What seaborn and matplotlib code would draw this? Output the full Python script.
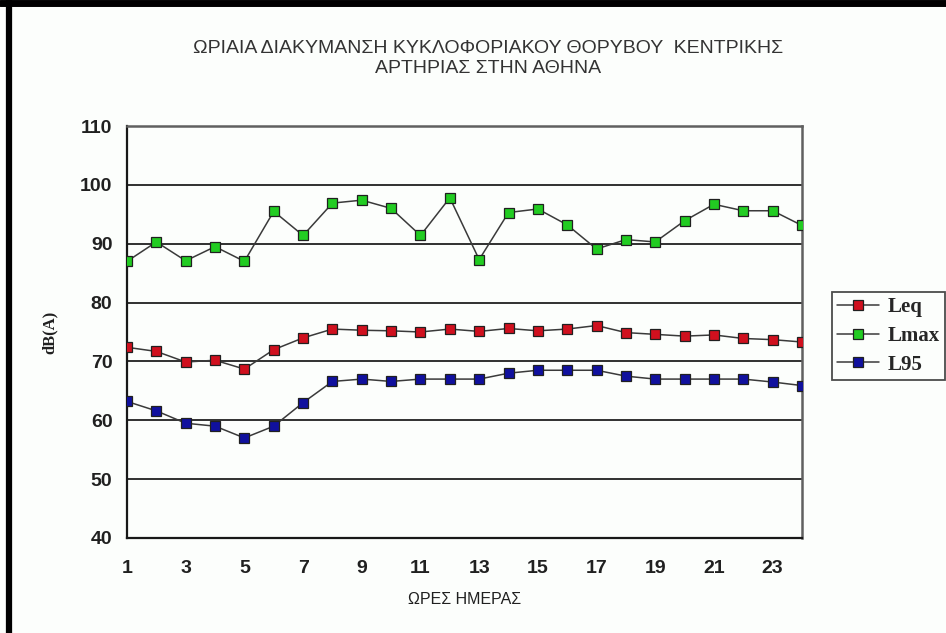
import matplotlib
matplotlib.use("Agg")
import matplotlib.pyplot as plt
import seaborn as sns
import pandas as pd
from matplotlib.lines import Line2D

# Hourly noise levels
hours = list(range(1, 25))
leq = [72.4, 71.7, 69.9, 70.2, 68.7, 72.0, 74.0, 75.5, 75.3, 75.2, 75.0, 75.5,
       75.1, 75.6, 75.2, 75.5, 76.1, 74.9, 74.6, 74.3, 74.5, 73.9, 73.7, 73.3]
lmax = [87.0, 90.3, 87.1, 89.5, 87.0, 95.5, 91.4, 96.9, 97.4, 96.0, 91.4, 97.8,
        87.3, 95.3, 95.9, 93.2, 89.1, 90.7, 90.3, 93.9, 96.7, 95.6, 95.6, 93.1]
l95 = [63.2, 61.6, 59.5, 59.0, 57.0, 59.0, 63.0, 66.6, 67.0, 66.6, 67.0, 67.0,
       67.0, 68.0, 68.5, 68.5, 68.5, 67.5, 67.0, 67.0, 67.0, 67.0, 66.5, 65.9]

series_names = ["Leq", "Lmax", "L95"]
series_colors = ["#d0101e", "#22cc22", "#10109e"]
yticks = [40, 50, 60, 70, 80, 90, 100, 110]
xtick_labels = [str(h) if h % 2 == 1 and h < 24 else "" for h in hours]

title = "ΩΡΙΑΙΑ ΔΙΑΚΥΜΑΝΣΗ ΚΥΚΛΟΦΟΡΙΑΚΟΥ ΘΟΡΥΒΟΥ  ΚΕΝΤΡΙΚΗΣ\nΑΡΤΗΡΙΑΣ ΣΤΗΝ ΑΘΗΝΑ"
xlabel = "ΩΡΕΣ ΗΜΕΡΑΣ"
ylabel = "dB(A)"

df = pd.DataFrame({"hour": hours, "Leq": leq, "Lmax": lmax, "L95": l95})

sns.set_style("white")
plt.rcParams["font.family"] = ["Liberation Sans", "DejaVu Sans"]

bg = "#fcfefc"
fig = plt.figure(figsize=(9.46, 6.33), dpi=100, facecolor=bg)
ax = fig.add_axes([127 / 946, 1 - 538 / 633, 675 / 946, 412 / 633])
ax.set_facecolor(bg)

for name, col in zip(series_names, series_colors):
    sns.lineplot(data=df, x="hour", y=name, ax=ax, color="#3a3a3a", lw=1.1,
                 marker="s", markersize=7, markerfacecolor=col,
                 markeredgecolor="#202020", markeredgewidth=0.9,
                 label=name, zorder=3)

ax.set_xlim(1, 24)
ax.set_ylim(40, 110)
ax.set_xticks(hours)
ax.set_xticklabels(xtick_labels)
ax.set_yticks(yticks)
ax.tick_params(axis="both", direction="inout", length=9, width=1.2,
               color="#202020", labelsize=14)
ax.tick_params(axis="x", pad=11)
ax.tick_params(axis="y", pad=6)
for lab in ax.get_xticklabels() + ax.get_yticklabels():
    lab.set_fontweight("bold")
    lab.set_color("#202020")

# horizontal gridlines
for v in yticks[1:-1]:
    ax.axhline(v, color="#303030", lw=1.4, zorder=1)

for side in ["left", "bottom"]:
    ax.spines[side].set_color("#181818")
    ax.spines[side].set_linewidth(1.6)
for side in ["top", "right"]:
    ax.spines[side].set_color("#606060")
    ax.spines[side].set_linewidth(1.8)

ax.set_xlabel(xlabel, fontsize=11.5, color="#202020", labelpad=11)
ax.set_ylabel(ylabel, fontsize=12, fontweight="bold", family="Liberation Serif",
              color="#202020", labelpad=16)

fig.text(488 / 946, 1 - 58.5 / 633, title, ha="center", va="center",
         fontsize=14, color="#333333", linespacing=1.3)

leg = ax.legend(loc="upper left", bbox_to_anchor=(832 / 946, 1 - 292 / 633),
                bbox_transform=fig.transFigure, frameon=True, fancybox=False,
                borderpad=0.25, labelspacing=0.42, handlelength=2.0,
                handletextpad=0.4, borderaxespad=0,
                prop={"family": "Liberation Serif", "weight": "bold", "size": 15})
leg.get_frame().set_edgecolor("#202020")
leg.get_frame().set_linewidth(1.3)
leg.get_frame().set_facecolor(bg)

# black frame of the original picture (left and top edges)
fig.add_artist(Line2D([9 / 946, 9 / 946], [0, 1], color="black", lw=4.5,
                      transform=fig.transFigure))
fig.add_artist(Line2D([0, 1], [1 - 3 / 633, 1 - 3 / 633], color="black", lw=5,
                      transform=fig.transFigure))

fig.savefig("out.png", dpi=100, facecolor=bg)
